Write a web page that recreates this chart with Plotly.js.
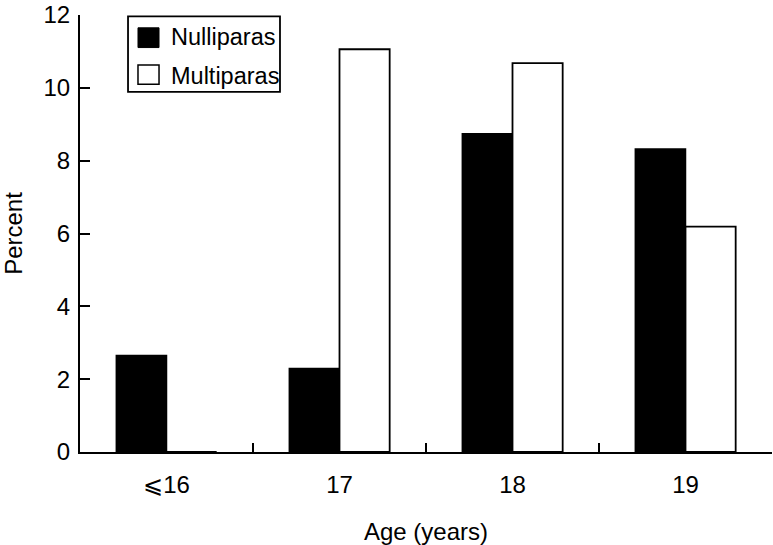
<!DOCTYPE html>
<html>
<head>
<meta charset="utf-8">
<script src="https://cdn.plot.ly/plotly-3.0.1.min.js"></script>
<style>html,body{margin:0;padding:0;background:#fff;}#chart{width:773px;height:545px;}</style>
</head>
<body>
<div id="chart"></div>
<script>
var categories = ["⩽16", "17", "18", "19"];
var seriesNames = ["Nulliparas", "Multiparas"];
var nulliparas = [2.65, 2.29, 8.74, 8.32];
var multiparas = [0, 11.06, 10.68, 6.19];

var FONT = "Liberation Sans, Arial, Helvetica, sans-serif";

var traces = [
  {type: "bar", name: seriesNames[0], x: categories, y: nulliparas,
   marker: {color: "#000000", line: {color: "#000000", width: 1.5}}, showlegend: false},
  {type: "bar", name: seriesNames[1], x: categories, y: multiparas,
   marker: {color: "#ffffff", line: {color: "#000000", width: 1.8}}, showlegend: false}
];

// legend drawn in paper coordinates
var shapes = [
  {type: "rect", xref: "paper", yref: "paper", x0: 0.0694, x1: 0.289, y0: 0.824, y1: 0.997,
   line: {color: "#000", width: 1.8}, fillcolor: "#fff"},
  {type: "rect", xref: "paper", yref: "paper", x0: 0.0838, x1: 0.1142, y0: 0.9255, y1: 0.9707,
   line: {color: "#000", width: 1}, fillcolor: "#000"},
  {type: "rect", xref: "paper", yref: "paper", x0: 0.0838, x1: 0.1142, y0: 0.8414, y1: 0.8857,
   line: {color: "#000", width: 1.5}, fillcolor: "#fff"}
];
var annotations = [
  {xref: "paper", yref: "paper", x: 0.1286, y: 0.9486, xanchor: "left", yanchor: "middle",
   text: seriesNames[0], showarrow: false, font: {family: FONT, size: 23.5, color: "#000"}},
  {xref: "paper", yref: "paper", x: 0.1286, y: 0.8606, xanchor: "left", yanchor: "middle",
   text: seriesNames[1], showarrow: false, font: {family: FONT, size: 23.5, color: "#000"}}
];

var layout = {
  width: 773, height: 545,
  margin: {l: 80, r: 1, t: 15, b: 92.5, pad: 0},
  paper_bgcolor: "#ffffff", plot_bgcolor: "#ffffff",
  font: {family: FONT, size: 24, color: "#000"},
  barmode: "group", bargap: 0.42, bargroupgap: 0,
  showlegend: false,
  xaxis: {
    type: "category", categoryorder: "array", categoryarray: categories,
    range: [-0.5, 3.5], tickson: "boundaries",
    ticks: "inside", ticklen: 9, tickwidth: 2, tickcolor: "#000",
    showline: true, linewidth: 2, linecolor: "#000",
    showgrid: false, zeroline: false, fixedrange: true,
    ticklabelstandoff: 10,
    tickfont: {family: FONT, size: 24, color: "#000"},
    title: {text: "Age (years)", font: {family: FONT, size: 24, color: "#000"}, standoff: 26}
  },
  yaxis: {
    range: [0, 12], dtick: 2, tick0: 0,
    ticks: "inside", ticklen: 10, tickwidth: 2, tickcolor: "#000",
    showline: true, linewidth: 2, linecolor: "#000",
    showgrid: false, zeroline: false, fixedrange: true,
    ticklabelstandoff: 3,
    tickfont: {family: FONT, size: 24, color: "#000"},
    title: {text: "Percent", font: {family: FONT, size: 24, color: "#000"}, standoff: 16}
  },
  shapes: shapes,
  annotations: annotations
};

Plotly.newPlot("chart", traces, layout, {displayModeBar: false, staticPlot: true});
</script>
</body>
</html>
